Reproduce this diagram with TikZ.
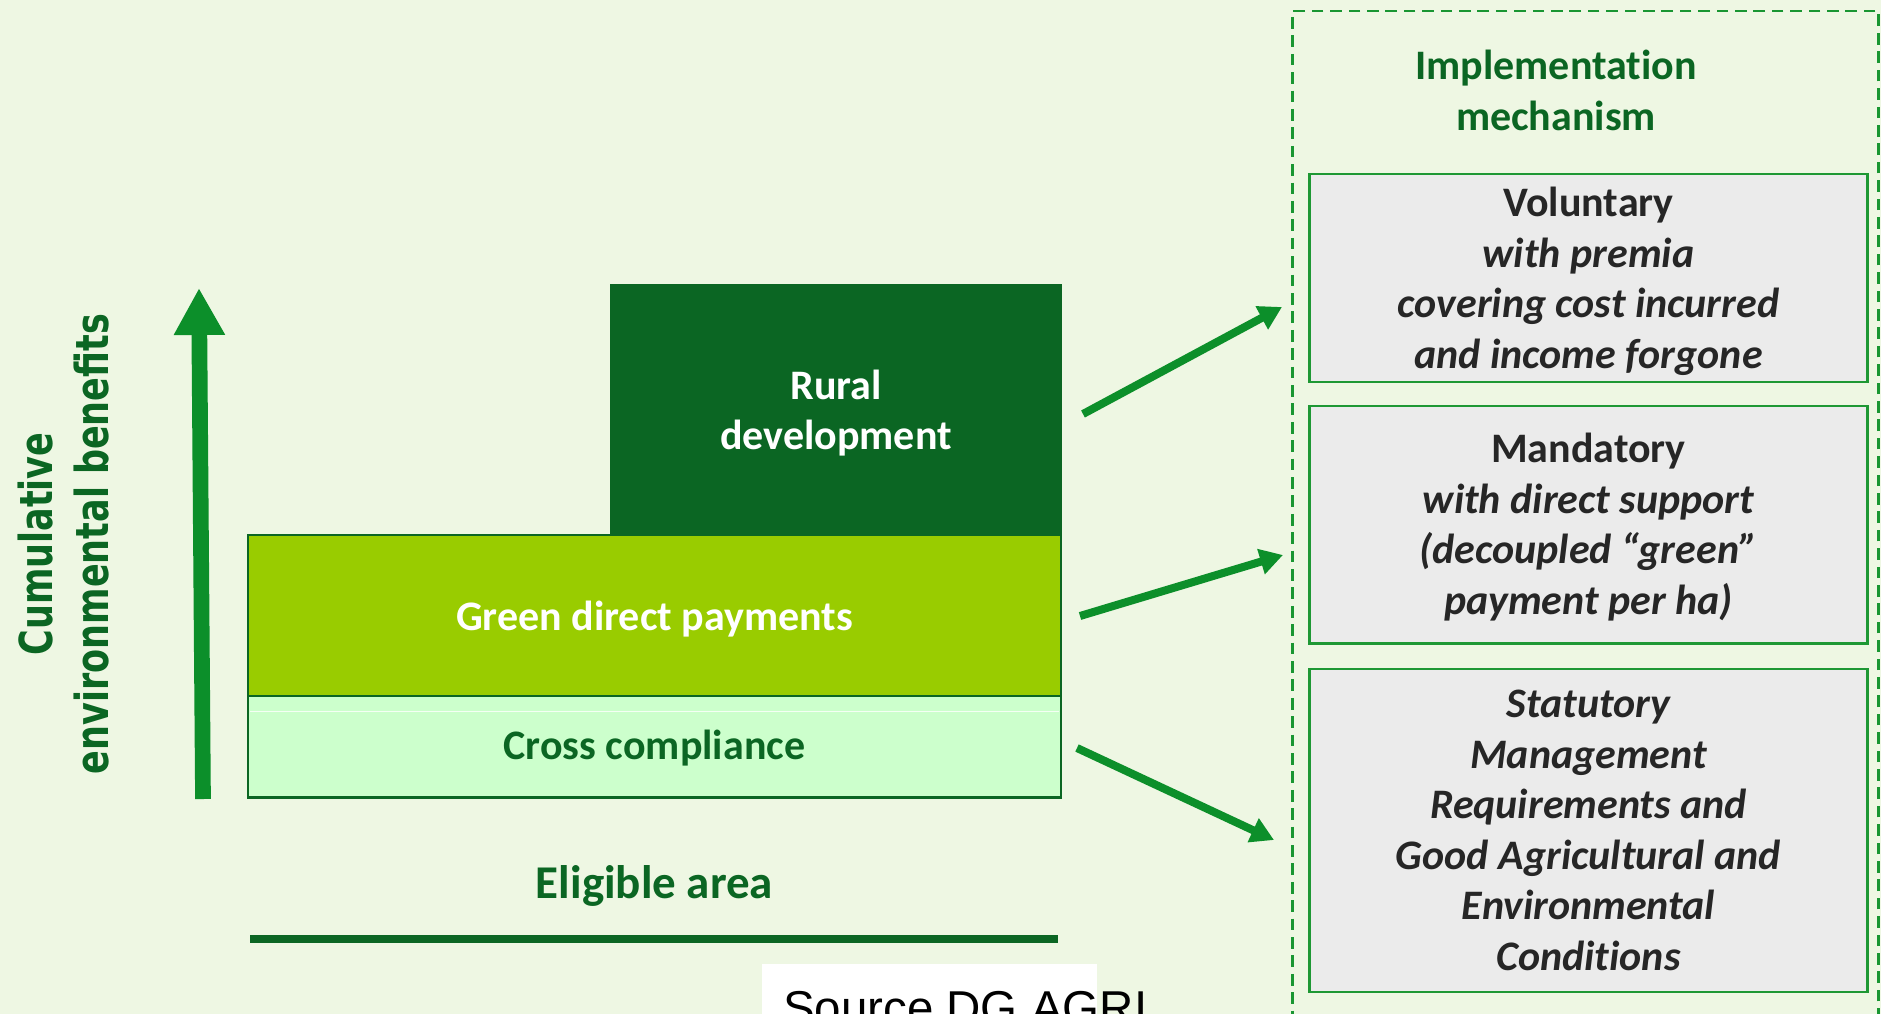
\documentclass[tikz,border=0pt]{standalone}
\usepackage{fontspec}
\setmainfont{Carlito}[Ligatures=NoCommon]
\newfontfamily\vfont{DejaVu Sans}
\newfontfamily\afont{Liberation Sans}
\usetikzlibrary{arrows.meta}
\definecolor{bg}{RGB}{238,247,227}
\definecolor{dkgreen}{RGB}{11,102,35}
\definecolor{lime}{RGB}{153,204,0}
\definecolor{mint}{RGB}{204,255,204}
\definecolor{arrowgreen}{RGB}{12,143,42}
\definecolor{boxborder}{RGB}{30,152,52}
\definecolor{dashgreen}{RGB}{25,150,50}
\definecolor{boxgray}{RGB}{235,235,235}
\definecolor{txtgray}{RGB}{38,38,38}
\newcommand\mlines[1]{\begin{tabular}[t]{@{}c@{}}#1\end{tabular}}
\begin{document}
\begin{tikzpicture}[x=1pt,y=-1pt,
  block/.style={inner sep=0pt, outer sep=0pt, anchor=north west},
  mechbox/.style={block, draw=boxborder, line width=2.5pt, fill=boxgray, minimum width=557.9pt},
  lbl/.style={inner sep=0pt, anchor=base, font=\fontsize{42}{50.6}\selectfont\bfseries},
  bigarrow/.style={draw=arrowgreen, line width=15.7pt, -{Triangle[width=48pt,length=47pt]}},
  smallarrow/.style={draw=arrowgreen, line width=8pt, -{Triangle[width=25pt,length=23pt]}}
]
\useasboundingbox (0,0) rectangle (1881,1014);
\clip (0,0) rectangle (1881,1014);
\fill[bg] (0,0) rectangle (1881,1014);

% dashed implementation frame
\node[block, draw=dashgreen, line width=2.7pt, dash pattern=on 11.7pt off 6.7pt,
      minimum width=586pt, minimum height=1030pt] (impl) at (1292.6,11) {};
\node[lbl, text=dkgreen] (impltxt) at (1556,80) {\mlines{Implementation\\mechanism}};

% mechanism boxes
\node[mechbox, minimum height=208pt] (vol) at (1309.5,174) {};
\node[mechbox, minimum height=237.5pt] (mand) at (1309.5,406) {};
\node[mechbox, minimum height=323pt] (stat) at (1309.5,669) {};
\node[lbl, text=txtgray] (voltxt) at (1588.5,216.7)
  {\mlines{Voluntary\\\itshape with premia\\\itshape covering cost incurred\\\itshape and income forgone}};
\node[lbl, text=txtgray] (mandtxt) at (1588.5,462.6)
  {\mlines{Mandatory\\\itshape with direct support\\\itshape (decoupled “green”\\\itshape payment per ha)}};
\node[lbl, text=txtgray] (stattxt) at (1588.5,717.5)
  {\mlines{\itshape Statutory\\\itshape Management\\\itshape Requirements and\\\itshape Good Agricultural and\\\itshape Environmental\\\itshape Conditions}};

% stacked blocks
\node[block, fill=dkgreen, minimum width=452pt, minimum height=252pt] (rd) at (610,284) {};
\node[block, fill=mint, draw=dkgreen, line width=2.5pt, minimum width=813pt, minimum height=101.5pt] (cc) at (248,696) {};
\node[block, fill=lime, draw=dkgreen, line width=2.2pt, minimum width=813pt, minimum height=161pt] (gdp) at (248,535) {};
\draw[white, line width=1pt, opacity=0.8] ([xshift=2pt,yshift=-15pt]cc.north west) -- ([xshift=-2pt,yshift=-15pt]cc.north east);
\node[lbl, text=white] (rdtxt) at (836,399) {\mlines{Rural\\development}};
\node[lbl, text=white] (gdptxt) at (654.5,630) {Green direct payments};
\node[lbl, text=dkgreen] (cctxt) at (654.5,759) {Cross compliance};

% vertical axis
\coordinate (ax0) at (203,799);
\coordinate (ax1) at (199,288);
\draw[bigarrow] (ax0) -- (ax1);
\node[inner sep=0pt, anchor=base, rotate=90, text=dkgreen, font=\vfont\bfseries\fontsize{35}{40}\selectfont] (cum) at (52,544)
  {\scalebox{1}[1.3]{Cumulative}};
\node[inner sep=0pt, anchor=base, rotate=90, text=dkgreen, font=\vfont\bfseries\fontsize{35}{40}\selectfont] (env) at (108,544)
  {\scalebox{1}[1.3]{environmental benefits}};

% eligible area
\node[lbl, text=dkgreen, font=\fontsize{47}{56}\selectfont\bfseries] (elig) at (654.5,898.3) {Eligible area};
\coordinate (el0) at (250,939);
\coordinate (el1) at (1058,939);
\draw[dkgreen, line width=8pt] (el0) -- (el1);

% connectors to mechanisms
\coordinate (a1s) at (1083,414);
\coordinate (a1e) at (1282,307);
\coordinate (a2s) at (1080,616);
\coordinate (a2e) at (1283,555);
\coordinate (a3s) at (1077,748);
\coordinate (a3e) at (1274,840);
\draw[smallarrow] (a1s) -- (a1e);
\draw[smallarrow] (a2s) -- (a2e);
\draw[smallarrow] (a3s) -- (a3e);

% source
\node[block, fill=white, minimum width=335pt, minimum height=70pt] (src) at (762,964) {};
\node[inner sep=0pt, anchor=base west, font=\afont\fontsize{47.5}{55}\selectfont] (srctxt) at (782.8,1024) {Source DG AGRI};
\end{tikzpicture}
\end{document}
